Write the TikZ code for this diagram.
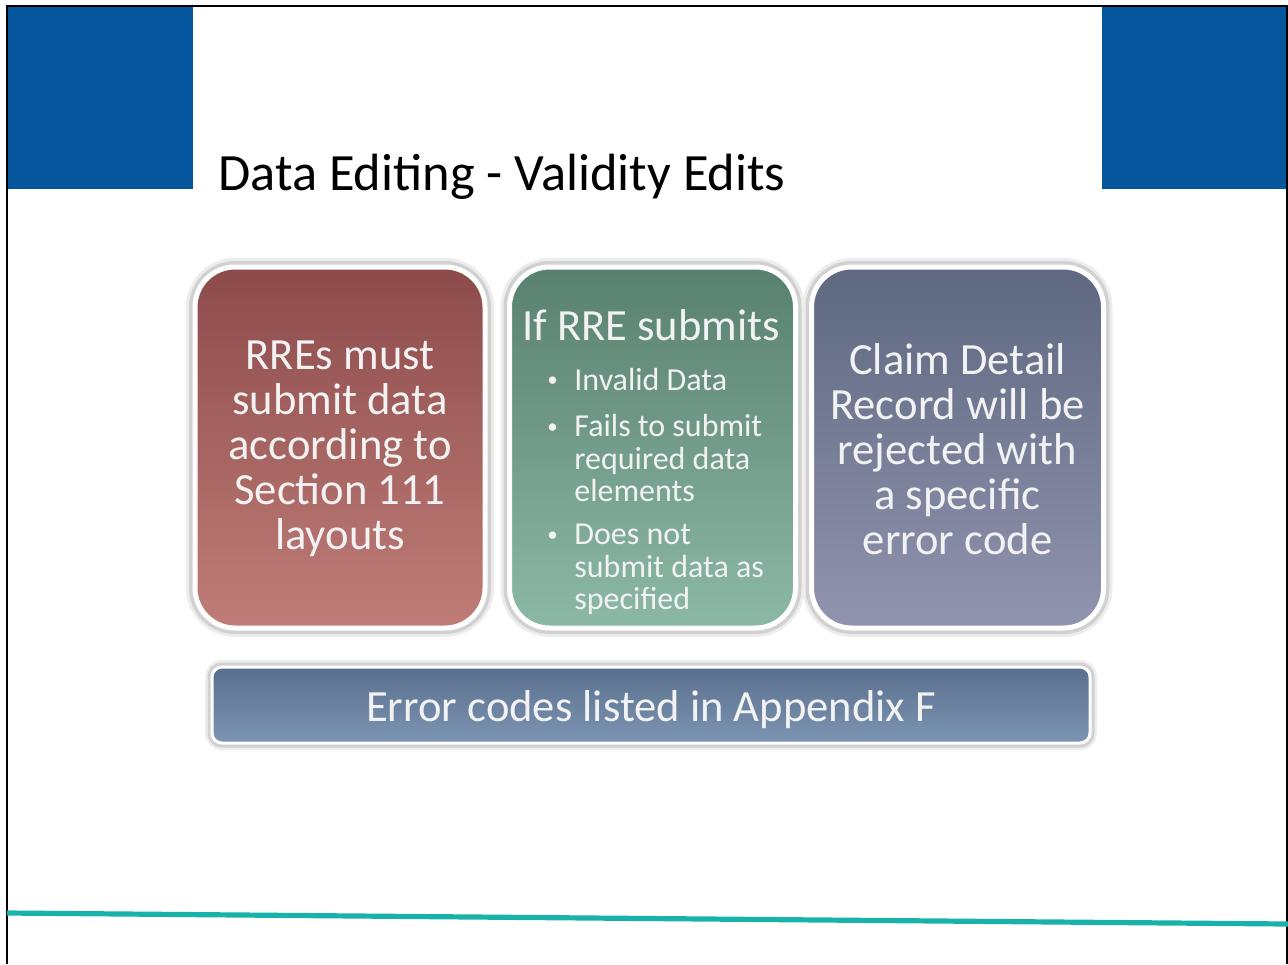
\documentclass[tikz,border=0pt]{standalone}
\usepackage{fontspec}
\setmainfont{Carlito}
\usepackage{xcolor}
\usepackage{tikz}
\usetikzlibrary{positioning}
\definecolor{SlideBlue}{HTML}{05569C}
\definecolor{TealLine}{HTML}{19B2AA}
\definecolor{CardText}{HTML}{F2F2F2}
\definecolor{RedTop}{HTML}{8C4B4B}
\definecolor{RedBot}{HTML}{C07D78}
\definecolor{GreenTop}{HTML}{58806E}
\definecolor{GreenBot}{HTML}{8CB9A5}
\definecolor{SlateTop}{HTML}{5E6880}
\definecolor{SlateBot}{HTML}{9194AF}
\definecolor{BarTop}{HTML}{586E8C}
\definecolor{BarBot}{HTML}{7D96B4}
\newcommand{\dotmark}{\raisebox{1.6pt}{\fontsize{10.5pt}{10pt}\selectfont\textbullet}}
\newcommand{\cardlines}[2][1.5pt]{\raisebox{-#1}[\height][\depth]{\begin{tabular}{@{}c@{}}#2\end{tabular}}}

\begin{document}
\begin{tikzpicture}[x=0.5pt,y=-0.5pt,
  card/.style={rounded corners=20pt,draw=white,line width=2.5pt,
    minimum width=145pt,minimum height=180.5pt,text=CardText,
    font=\fontsize{22.3pt}{22.5pt}\selectfont,
    preaction={draw=black!7,line width=9pt},
    preaction={draw=black!18,line width=6pt}},
  bar/.style={rounded corners=5pt,draw=white,line width=1.5pt,
    minimum width=439pt,minimum height=38pt,text=CardText,text depth=0pt,
    font=\fontsize{22.3pt}{22.5pt}\selectfont,
    preaction={draw=black!7,line width=7pt},
    preaction={draw=black!18,line width=4.5pt}},
  pane/.style={fill=SlideBlue,draw=none}]
  \useasboundingbox (0,0) rectangle (1288,964);
  % slide frame and header panes
  \fill[pane] (7,6) rectangle (193,189);
  \fill[pane] (1102,6) rectangle (1287,189);
  \draw[line width=0.8pt] (7,964) -- (7,6) -- (1287,6) -- (1287,964);
  \draw[TealLine,line width=2.6pt] (7,913) -- (1288,924);
  \node[anchor=base west,inner sep=0pt,font=\fontsize{26.2pt}{31pt}\selectfont] (title) at (218,190)
    {Data Editing - Validity Edits};
  % the three cards
  \node[card,top color=RedTop,bottom color=RedBot] (must) at (340,447.5)
    {\cardlines{RREs must\\submit data\\according to\\Section 111\\layouts}};
  \node[card,minimum width=143pt,top color=GreenTop,bottom color=GreenBot] (rre) at (652.5,447.5) {};
  \node[card,minimum width=146pt,top color=SlateTop,bottom color=SlateBot] (reject) at (957.5,447.5)
    {\cardlines[4pt]{Claim Detail\\Record will be\\rejected with\\a specific\\error code}};
  \node[anchor=base,text=CardText,font=\fontsize{22.3pt}{22.5pt}\selectfont] (ifrre) at (651,340)
    {If RRE submits};
  \node[anchor=base west,inner sep=0pt,text=CardText,font=\fontsize{16pt}{16.3pt}\selectfont] (cases) at (547,390)
    {\begin{tabular}[t]{@{}p{13.5pt}@{}l@{}}
      \dotmark & Invalid Data\\[7pt]
      \dotmark & Fails to submit\\
               & required data\\
               & elements\\[5pt]
      \dotmark & Does not\\
               & submit data as\\
               & specified
    \end{tabular}};
  % bottom bar
  \node[bar,top color=BarTop,bottom color=BarBot] (appx) at (651,705)
    {\raisebox{-1pt}{Error codes listed in Appendix F}};
\end{tikzpicture}
\end{document}
